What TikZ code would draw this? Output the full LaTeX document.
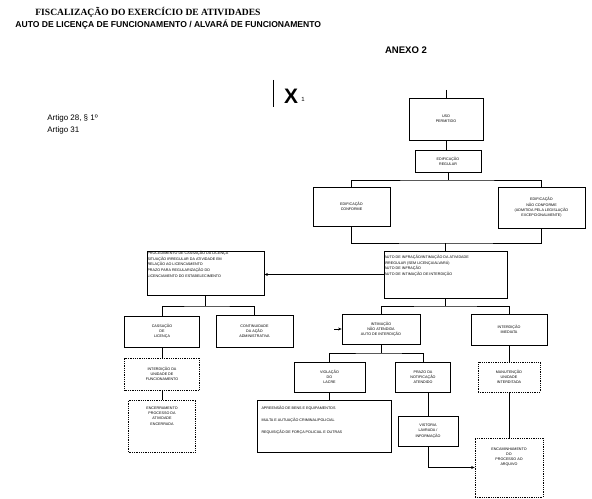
\documentclass[tikz,border=0pt]{standalone}
\usepackage{fontspec}
\setmainfont{Liberation Sans}
\newfontfamily\serifttl{Liberation Serif}
\usetikzlibrary{arrows.meta}
\begin{document}
\begin{tikzpicture}[x=1bp,y=-1bp,line width=0.8bp,
  txt/.style={font=\fontsize{3.7}{5.2}\selectfont,align=center},
  box/.style={draw,txt,inner sep=0.5bp},
  dbox/.style={box,densely dotted},
  ltxt/.style={font=\fontsize{3.7}{5.6}\selectfont,align=left,anchor=north west,inner sep=0.5bp},
  >={Stealth[length=3.5bp,width=3bp]}]
\fill[white] (0,0) rectangle (592,499);
\useasboundingbox (0,0) rectangle (592,499);

% headings
\node[anchor=west,inner sep=0,font=\serifttl\bfseries\fontsize{9.6}{11}\selectfont] (t1) at (35,12) {FISCALIZAÇÃO DO EXERCÍCIO DE ATIVIDADES};
\node[anchor=west,inner sep=0,font=\bfseries\fontsize{8.6}{10}\selectfont] (t2) at (15,25) {AUTO DE LICENÇA DE FUNCIONAMENTO / ALVARÁ DE FUNCIONAMENTO};
\node[inner sep=0,font=\bfseries\fontsize{9.6}{11}\selectfont] (anexo) at (406,50) {ANEXO 2};
\coordinate (v1) at (273,80);
\coordinate (v2) at (273,107);
\draw (v1) -- (v2);
\node[inner sep=0,font=\bfseries\fontsize{21}{22}\selectfont] (xx) at (291,96) {X};
\node[inner sep=0,font=\fontsize{6}{7}\selectfont] (x1) at (303,99) {1};
\node[anchor=west,inner sep=0,font=\fontsize{8}{9}\selectfont] (a1) at (47,118) {Artigo 28, § 1º};
\node[anchor=west,inner sep=0,font=\fontsize{8}{9}\selectfont] (a2) at (47,130) {Artigo 31};

% boxes
\node[box,minimum width=74bp,minimum height=42bp] (uso) at (446,119) {USO\\PERMITIDO};
\node[box,minimum width=66bp,minimum height=22bp] (edif) at (448,161) {EDIFICAÇÃO\\REGULAR};
\node[box,minimum width=77bp,minimum height=39bp] (conf) at (351.5,206.5) {EDIFICAÇÃO\\CONFORME};
\node[box,minimum width=87bp,minimum height=41bp] (naoconf) at (541.5,207.5) {EDIFICAÇÃO\\NÃO CONFORME\\(ADMITIDA PELA LEGISLAÇÃO\\EXCEPCIONALMENTE)};

\node[box,minimum width=117bp,minimum height=44bp] (pl) at (205.5,273) {};
\node[ltxt] (pltxt) at (pl.north west) {PROCEDIMENTO DE CASSAÇÃO DA LICENÇA\\SITUAÇÃO IRREGULAR DA ATIVIDADE EM\\RELAÇÃO AO LICENCIAMENTO\\PRAZO PARA REGULARIZAÇÃO DO\\LICENCIAMENTO DO ESTABELECIMENTO};
\node[box,minimum width=123bp,minimum height=47bp] (rb) at (445.5,274.5) {};
\node[ltxt] (rbtxt) at ([yshift=-4bp]rb.north west) {AUTO DE INFRAÇÃO/INTIMAÇÃO DA ATIVIDADE\\IRREGULAR (SEM LICENÇA/ALVARÁ)\\AUTO DE INFRAÇÃO\\AUTO DE INTIMAÇÃO DE INTERDIÇÃO};

\node[box,minimum width=75bp,minimum height=31bp] (cassa) at (162,331.5) {CASSAÇÃO\\DE\\LICENÇA};
\node[box,minimum width=77bp,minimum height=32bp] (contin) at (254.5,331) {CONTINUIDADE\\DA AÇÃO\\ADMINISTRATIVA};
\node[box,minimum width=78bp,minimum height=30bp] (intim) at (381,329) {INTIMAÇÃO\\NÃO ATENDIDA\\AUTO DE INTERDIÇÃO};
\node[box,minimum width=76bp,minimum height=31bp] (interd) at (509,329.5) {INTERDIÇÃO\\IMEDIATA};

\node[dbox,minimum width=75bp,minimum height=32bp] (unid) at (162,374) {INTERDIÇÃO DA\\UNIDADE DE\\FUNCIONAMENTO};
\node[box,minimum width=71bp,minimum height=30bp] (viol) at (329.5,377) {VIOLAÇÃO\\DO\\LACRE};
\node[box,minimum width=55bp,minimum height=30bp] (notif) at (423,377) {PRAZO DA\\NOTIFICAÇÃO\\ATENDIDO};
\node[dbox,minimum width=62bp,minimum height=30bp] (manut) at (509,377) {MANUTENÇÃO\\UNIDADE\\INTERDITADA};

\node[dbox,minimum width=67bp,minimum height=52bp,text depth=20bp] (encerr) at (162,426) {ENCERRAMENTO\\PROCESSO DA\\ATIVIDADE\\ENCERRADA};
\node[box,minimum width=134bp,minimum height=52bp] (pen) at (324,426) {};
\node[ltxt,font=\fontsize{3.7}{12}\selectfont] (pentxt) at ([shift={(4bp,-6bp)}]pen.north west) {APREENSÃO DE BENS E EQUIPAMENTOS\\MULTA E AUTUAÇÃO CRIMINAL/POLICIAL\\REQUISIÇÃO DE FORÇA POLICIAL E OUTRAS};
\node[box,minimum width=60bp,minimum height=30bp] (vist) at (428,431) {VISTORIA\\LAVRADA /\\INFORMAÇÃO};
\node[dbox,minimum width=68bp,minimum height=59bp,text depth=22bp] (arq) at (509,467.5) {ENCAMINHAMENTO\\DO\\PROCESSO AO\\ARQUIVO};

% connectors
\coordinate (top) at (446,90);
\draw (top) -- (uso.north);
\draw (uso.south) -- (uso.south |- edif.north);
\coordinate (j1) at (448,180);
\draw (edif.south) -- (j1);
\draw (conf.north) |- (j1) -| (naoconf.north);
\coordinate (j2) at (445.5,243);
\draw (conf.south) |- (j2) -| (naoconf.south);
\draw (j2) -- (rb.north);
\draw[->] (rb.west) -- (rb.west -| pl.east);
\coordinate (j3) at (205.5,306);
\draw (pl.south) -- (j3);
\draw (cassa.north) |- (j3) -| (contin.north);
\coordinate (j4) at (445.5,306);
\draw (rb.south) -- (j4);
\draw (intim.north) |- (j4) -| (interd.north);
\coordinate (s1) at (334,329);
\draw[->] (s1) -- (intim.west);
\coordinate (j5) at (381,353);
\draw (intim.south) -- (j5);
\draw (viol.north) |- (j5) -| (notif.north);
\draw (interd.south) -- (manut.north);
\draw (cassa.south) -- (unid.north);
\draw (unid.south) -- (encerr.north);
\draw (viol.south) -- (viol.south |- pen.north);
\draw (vist.north |- notif.south) -- (vist.north);
\draw[->] (vist.south) |- (arq.west);
\draw (manut.south) -- (arq.north);
\end{tikzpicture}
\end{document}
